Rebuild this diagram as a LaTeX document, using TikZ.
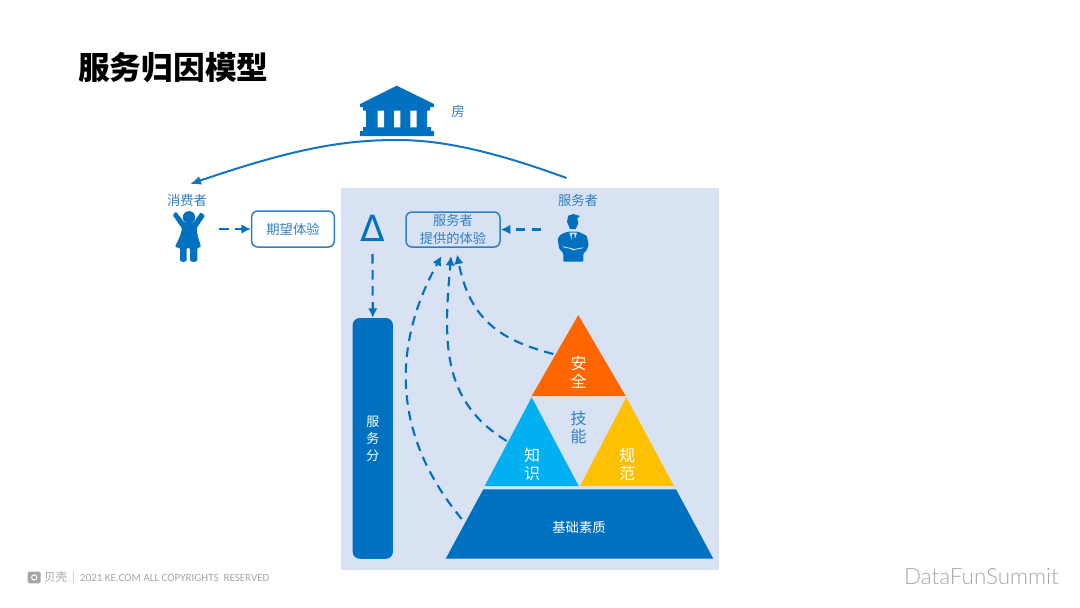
\documentclass[tikz,border=0pt]{standalone}
\usepackage{fontspec}
\setmainfont{Noto Sans CJK SC}
\newfontfamily\latinfont{Carlito}
\newfontfamily\deltafont{DejaVu Sans}
\newfontfamily\brandfont{Lato Light}
\usetikzlibrary{arrows.meta}
\definecolor{mainblue}{HTML}{0070C0}
\definecolor{labelblue}{HTML}{2E80C4}
\definecolor{panelblue}{HTML}{D9E2F3}
\definecolor{orangetri}{HTML}{FF6600}
\definecolor{cyantri}{HTML}{00B0F0}
\definecolor{yellowtri}{HTML}{FFC000}
\definecolor{footgray}{HTML}{A6A6A6}
\tikzset{
  lab/.style={text=labelblue,font=\fontsize{13.3}{17.5}\selectfont,inner sep=0pt,align=center},
  wlab/.style={text=white,font=\fontsize{13.3}{17.5}\selectfont,inner sep=0pt,align=center},
  vlab/.style={text=white,font=\fontsize{16}{18}\selectfont,inner sep=0pt,align=center},
  roundbox/.style={draw=labelblue,line width=1.5pt,rounded corners=6pt,fill=none,inner sep=0pt,text=labelblue,align=center,font=\fontsize{13.3}{17.5}\selectfont},
  dashconn/.style={mainblue,line width=2.1pt,dash pattern=on 9.5pt off 6.5pt,-{Latex[length=9.5pt,width=9.5pt]}},
  icon/.style={fill=mainblue,draw=none}
}
\begin{document}
\begin{tikzpicture}[x=1pt,y=-1pt]
\useasboundingbox (0,0) rectangle (1080,608);
\fill[white] (0,0) rectangle (1080,608);
% title
\node[anchor=west,inner sep=0pt,font=\fontsize{31.7}{36}\bfseries\selectfont,text=black] (title) at (78,68) {服务归因模型};
% panel
\fill[panelblue] (341,188) rectangle (719,570);
% bank icon
\fill[icon] (396.7,85.7) -- (434,104) -- (434,107) -- (430,107) -- (430,110.7) -- (427,110.7) -- (427,127) -- (431,127) -- (431,131) -- (434,131) -- (434,136) -- (360,136) -- (360,131) -- (363,131) -- (363,127) -- (366,127) -- (366,110.7) -- (363,110.7) -- (363,107) -- (360,107) -- (360,104) -- cycle;
\fill[white] (377.7,110.7) rectangle (384,127.3) (394,110.7) rectangle (400.3,127.3) (410.3,110.7) rectangle (416.7,127.3);
\node[lab] (house) at (458,111) {房};
% labels
\node[lab] (consumer) at (187,200.5) {消费者};
\node[lab] (provider) at (578,200.5) {服务者};
% woman
\fill[icon] (189,217.3) circle (6.2);
\fill[icon,rounded corners=1pt] (172.7,215) -- (176,211.7) -- (184.5,222.5) -- (193.5,222.5) -- (200.7,212.3) -- (205,215.7) -- (196.5,228.5) -- (197.5,235) -- (201,247) -- (197.3,248) -- (197.3,259) .. controls (197.3,262.5) and (190,262.5) .. (190,259) -- (190,248) -- (186.7,248) -- (186.7,259) .. controls (186.7,262.5) and (180,262.5) .. (180,259) -- (180,248) -- (175,247) -- (180.5,235) -- (182,228.5) -- cycle;
% man
\fill[icon] (567,221.7) -- (568.3,215.7) -- (573.3,214) -- (580,216) -- (577.3,218.3) -- (578.3,223.3) -- (575.7,229) -- (570,229) -- cycle;
\fill[icon,rounded corners=1pt] (567.7,231.7) -- (578.3,231.7) -- (586.7,235.7) -- (588.7,245) -- (585.7,251.7) -- (583.3,253.3) -- (583.3,261.7) -- (563.3,261.7) -- (563.3,253.3) -- (559,248.3) -- (557.7,238.3) -- (561,234.3) -- cycle;
\fill[panelblue] (569.3,232.5) -- (577,232.5) -- (573.3,244) -- cycle;
\fill[icon] (572.2,234) -- (574.4,234) -- (575,241) -- (573.3,245) -- (571.6,241) -- cycle;
\draw[panelblue,line width=0.8pt] (562.7,246.7) -- (573.3,249) (583.3,247.7) -- (571.7,250);
% boxes
\node[roundbox,minimum width=82.6pt,minimum height=36pt] (expect) at (293,229) {期望体验};
\node[roundbox,minimum width=94pt,minimum height=35pt] (provided) at (453,229.5) {服务者\\提供的体验};
% delta
\node[inner sep=0pt,text=mainblue,font=\deltafont\fontsize{36}{36}\selectfont] (delta) at (372.5,228) {Δ};
% score bar
\node[fill=mainblue,rounded corners=7pt,minimum width=40.3pt,minimum height=240.7pt,inner sep=0pt,text=white,align=center,font=\fontsize{13}{17}\selectfont] (score) at (372.8,438.4) {服\\务\\分};
% pyramid
\fill[orangetri] (578.3,315) -- (625.7,396) -- (531.7,396) -- cycle;
\fill[cyantri] (531.7,397.3) -- (578.7,486) -- (484.7,486) -- cycle;
\fill[yellowtri] (626.3,397.3) -- (674,486) -- (580,486) -- cycle;
\fill[mainblue] (483.3,489.3) -- (676,489.3) -- (713.3,558.7) -- (445.7,558.7) -- cycle;
\node[vlab] (safe) at (578.7,372) {安\\全};
\node[vlab,text=labelblue] (skill) at (578.5,427.5) {技\\能};
\node[vlab] (know) at (532,464) {知\\识};
\node[vlab] (norm) at (627,464) {规\\范};
\node[wlab] (base) at (579,527) {基础素质};
% connector ends
\coordinate (cStart) at (566.5,178);
\coordinate (cTop) at (397,140);
\coordinate (cEnd) at (190,184);
\coordinate (eA) at (461.7,519);
\coordinate (eB) at (506.7,441);
\coordinate (eC) at (553.3,354);
\coordinate (tA) at (441.5,256);
\coordinate (tB) at (451,256);
\coordinate (tC) at (457,254.5);
\coordinate (womanR) at (219,229);
\coordinate (manL) at (541,229.5);
\coordinate (deltaS) at (372.5,254);
% connectors
\draw[labelblue!40!mainblue,line width=2pt,-{Latex[length=11pt,width=9pt]}] (cStart) .. controls (490,150) and (440,140) .. (cTop) .. controls (340,140) and (290,150) .. (cEnd);
\draw[dashconn] (womanR) -- (expect.west);
\draw[dashconn] (manL) -- (provided.east);
\draw[dashconn] (deltaS) -- (score.north);
\draw[dashconn] (eA) .. controls (388,430) and (395,340) .. (tA);
\draw[dashconn] (eB) .. controls (440,400) and (444,340) .. (tB);
\draw[dashconn] (eC) .. controls (500,340) and (470,320) .. (tC);
% footer
\fill[footgray,rounded corners=2pt] (27.7,571.7) rectangle (40.7,583.3);
\draw[white,line width=1pt] (34.2,577.5) circle (2.6);
\node[anchor=west,inner sep=0pt,text=footgray,font=\fontsize{11.5}{12}\selectfont] (beike) at (44,577.5) {贝壳};
\draw[footgray!50,line width=0.5pt] (73.3,571) -- (73.3,584);
\node[anchor=west,inner sep=0pt,text=footgray,font=\latinfont\fontsize{11}{12}\selectfont] (copy) at (80,577.5) {2021 KE.COM ALL COPYRIGHTS\ \ RESERVED};
\node[anchor=east,inner sep=0pt,text=footgray,font=\brandfont\fontsize{22.4}{24}\selectfont] (brand) at (1059,577) {DataFunSummit};
\end{tikzpicture}
\end{document}
